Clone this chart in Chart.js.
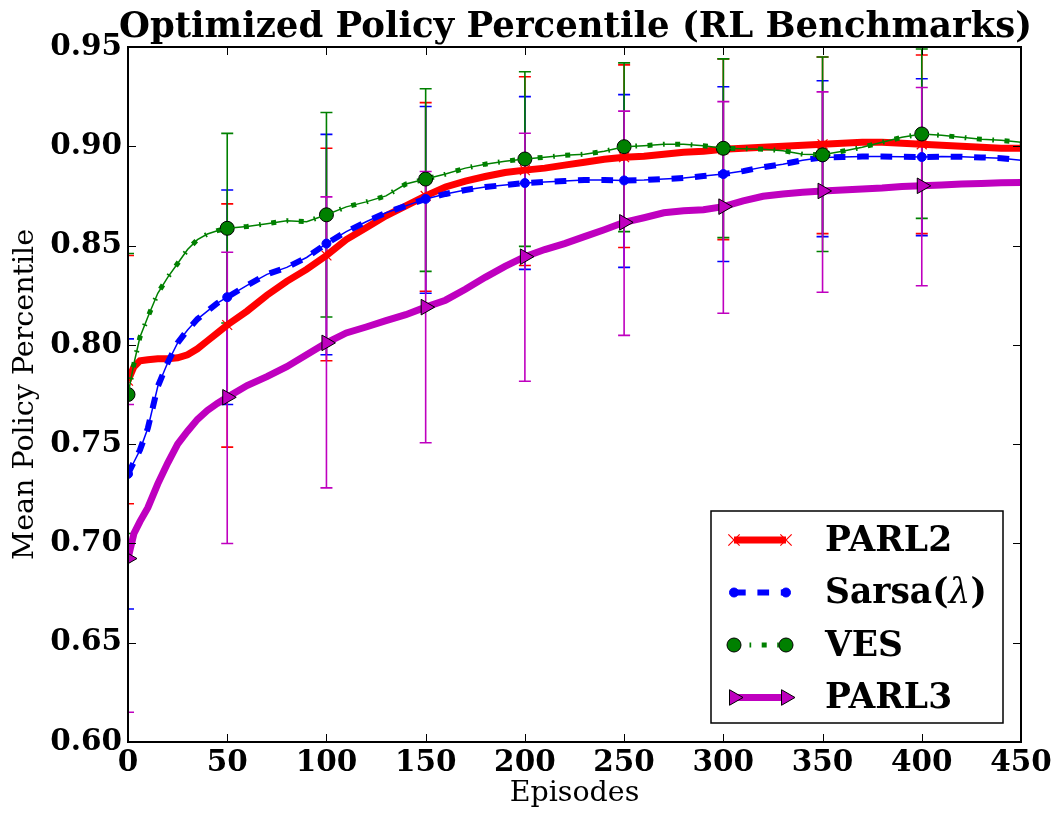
<!DOCTYPE html>
<html>
<head>
<meta charset="utf-8">
<title>Optimized Policy Percentile (RL Benchmarks)</title>
<script src="https://cdn.jsdelivr.net/npm/chart.js@4"></script>
<style>
  html, body { margin: 0; padding: 0; background: #fff; }
  #wrap { width: 1059px; height: 813px; }
</style>
</head>
<body>
<div id="wrap"><canvas id="chart"></canvas></div>
<script>
const FONT = "'DejaVu Serif', serif";

const episodes = [0, 3, 6, 10, 15, 20, 25, 30, 35, 40, 45,
  50, 60, 70, 80, 90, 100, 110, 120, 130, 140,
  150, 160, 170, 180, 190, 200, 210, 220, 230, 240,
  250, 260, 270, 280, 290, 300, 310, 320, 330, 340,
  350, 360, 370, 380, 390, 400, 410, 420, 430, 440, 450];

const parl2 = [0.782, 0.789, 0.792, 0.7925, 0.793, 0.793, 0.7935, 0.795, 0.798, 0.802, 0.806,
  0.810, 0.817, 0.825, 0.832, 0.838, 0.845, 0.853, 0.859, 0.865, 0.870,
  0.875, 0.8795, 0.8825, 0.8848, 0.8868, 0.888, 0.889, 0.8905, 0.892, 0.8935,
  0.8945, 0.895, 0.896, 0.897, 0.8975, 0.8985, 0.899, 0.8995, 0.900, 0.9005,
  0.901, 0.9015, 0.902, 0.902, 0.9015, 0.901, 0.9005, 0.900, 0.8995, 0.899, 0.899];

const sarsa = [0.735, 0.741, 0.747, 0.758, 0.779, 0.791, 0.801, 0.8075, 0.813, 0.817, 0.821,
  0.824, 0.830, 0.8355, 0.839, 0.844, 0.851, 0.857, 0.862, 0.8665, 0.870,
  0.8735, 0.876, 0.878, 0.8795, 0.8805, 0.8815, 0.882, 0.8825, 0.883, 0.883,
  0.8828, 0.883, 0.8835, 0.884, 0.885, 0.886, 0.8875, 0.8895, 0.891, 0.893,
  0.8944, 0.8946, 0.8948, 0.8948, 0.8947, 0.8946, 0.8948, 0.8947, 0.8944, 0.894, 0.893];

const ves = [0.775, 0.7906, 0.8038, 0.814, 0.826, 0.834, 0.841, 0.848, 0.853, 0.8558, 0.8575,
  0.8587, 0.8596, 0.861, 0.8625, 0.862, 0.8655, 0.8695, 0.872, 0.875, 0.881,
  0.8835, 0.886, 0.889, 0.891, 0.8925, 0.8936, 0.8945, 0.8955, 0.896, 0.8975,
  0.8998, 0.9003, 0.901, 0.901, 0.9003, 0.899, 0.8988, 0.8985, 0.8978, 0.896,
  0.8957, 0.8975, 0.8995, 0.902, 0.9045, 0.9062, 0.9055, 0.9045, 0.9035, 0.903, 0.902];

const parl3 = [0.6924, 0.705, 0.711, 0.718, 0.730, 0.7405, 0.750, 0.7565, 0.7625, 0.767, 0.7705,
  0.7736, 0.7795, 0.784, 0.789, 0.795, 0.801, 0.806, 0.809, 0.8122, 0.8152,
  0.819, 0.8225, 0.828, 0.834, 0.8395, 0.8444, 0.848, 0.851, 0.8545, 0.858,
  0.8617, 0.864, 0.8665, 0.8675, 0.868, 0.8696, 0.8725, 0.8748, 0.876, 0.8768,
  0.8775, 0.878, 0.8785, 0.879, 0.8798, 0.8801, 0.8805, 0.881, 0.8813, 0.8816, 0.8818];

// error bars (every 50 episodes)
const errEpisodes = [0, 50, 100, 150, 200, 250, 300, 350, 400];
const parl2High = [0.845, 0.871, 0.899, 0.922, 0.935, 0.941, 0.944, 0.945, 0.946];
const parl2Low  = [0.720, 0.7485, 0.792, 0.827, 0.840, 0.849, 0.853, 0.856, 0.856];
const sarsaHigh = [0.803, 0.878, 0.906, 0.920, 0.925, 0.926, 0.930, 0.933, 0.934];
const sarsaLow  = [0.667, 0.770, 0.795, 0.826, 0.838, 0.839, 0.842, 0.8545, 0.855];
const vesHigh   = [0.846, 0.9065, 0.917, 0.929, 0.9375, 0.942, 0.944, 0.945, 0.949];
const vesLow    = [0.705, 0.811, 0.814, 0.837, 0.8496, 0.857, 0.854, 0.847, 0.8637];
const parl3High = [0.770, 0.8466, 0.8745, 0.8873, 0.9066, 0.9177, 0.9225, 0.9274, 0.9296];
const parl3Low  = [0.615, 0.700, 0.728, 0.7507, 0.7817, 0.8048, 0.8159, 0.8265, 0.8298];

const xTicks = [0, 50, 100, 150, 200, 250, 300, 350, 400, 450];
const yTicks = [0.60, 0.65, 0.70, 0.75, 0.80, 0.85, 0.90, 0.95];

const RED = '#ff0000', BLUE = '#0000ff', GREEN = '#008000', MAG = '#bf00bf';

const pts = vals => episodes.map((x, i) => ({ x: x, y: vals[i] }));
const markAt = r => ctx => (ctx.raw && errEpisodes.includes(ctx.raw.x)) ? r : 0;

const errSeries = [
  { color: RED, high: parl2High, low: parl2Low },
  { color: BLUE, high: sarsaHigh, low: sarsaLow },
  { color: GREEN, high: vesHigh, low: vesLow },
  { color: MAG, high: parl3High, low: parl3Low }
];

const legendItems = [
  { label: ['PARL2'], color: RED, width: 7, dash: [], point: { pointStyle: 'crossRot', radius: 8, borderWidth: 1.2, rotation: 0 }, fill: RED, stroke: RED },
  { label: ['Sarsa(', 'λ', ')'], color: BLUE, width: 6, dash: [11.7, 11.7], point: { pointStyle: 'circle', radius: 4.5, borderWidth: 1, rotation: 0 }, fill: BLUE, stroke: BLUE },
  { label: ['VES'], color: GREEN, width: 5, dash: [5, 10.5, 1.7, 10.5], point: { pointStyle: 'circle', radius: 7, borderWidth: 1, rotation: 0 }, fill: GREEN, stroke: '#000' },
  { label: ['PARL3'], color: MAG, width: 7, dash: [], point: { pointStyle: 'triangle', radius: 9, borderWidth: 1, rotation: 90 }, fill: MAG, stroke: '#000' }
];

const errorBars = {
  id: 'errorBars',
  beforeDatasetsDraw(chart) {
    const { ctx, chartArea: a, scales: { x, y } } = chart;
    ctx.save();
    ctx.beginPath();
    ctx.rect(a.left, a.top, a.right - a.left, a.bottom - a.top);
    ctx.clip();
    ctx.lineWidth = 1.6;
    errSeries.forEach(s => {
      ctx.strokeStyle = s.color;
      errEpisodes.forEach((ep, i) => {
        const px = x.getPixelForValue(ep);
        const t = y.getPixelForValue(s.high[i]);
        const b = y.getPixelForValue(s.low[i]);
        ctx.beginPath();
        ctx.moveTo(px, t); ctx.lineTo(px, b);
        ctx.moveTo(px - 6, t); ctx.lineTo(px + 6, t);
        ctx.moveTo(px - 6, b); ctx.lineTo(px + 6, b);
        ctx.stroke();
      });
    });
    ctx.restore();
  }
};

const frame = {
  id: 'frame',
  afterDraw(chart) {
    const { ctx, chartArea: a, scales: { x, y } } = chart;
    ctx.save();
    // inner ticks on all four sides
    ctx.strokeStyle = '#000';
    ctx.lineWidth = 1;
    ctx.beginPath();
    xTicks.forEach(v => {
      const px = Math.round(x.getPixelForValue(v)) + 0.5;
      ctx.moveTo(px, a.bottom); ctx.lineTo(px, a.bottom - 8);
      ctx.moveTo(px, a.top); ctx.lineTo(px, a.top + 8);
    });
    yTicks.forEach(v => {
      const py = Math.round(y.getPixelForValue(v)) + 0.5;
      ctx.moveTo(a.left, py); ctx.lineTo(a.left + 8, py);
      ctx.moveTo(a.right, py); ctx.lineTo(a.right - 8, py);
    });
    ctx.stroke();
    ctx.lineWidth = 2;
    ctx.strokeRect(a.left, a.top, a.right - a.left, a.bottom - a.top);

    // title
    ctx.fillStyle = '#000';
    ctx.font = 'bold 35.5px ' + FONT;
    ctx.textAlign = 'center';
    ctx.textBaseline = 'alphabetic';
    ctx.fillText('Optimized Policy Percentile (RL Benchmarks)', (a.left + a.right) / 2 + 1, 37);

    // legend
    const bw = 292, bh = 212;
    const bx = a.right - 18 - bw, by = a.bottom - 19 - bh;
    ctx.fillStyle = '#fff';
    ctx.fillRect(bx, by, bw, bh);
    ctx.lineWidth = 1.5;
    ctx.strokeStyle = '#000';
    ctx.strokeRect(bx, by, bw, bh);
    legendItems.forEach((it, i) => {
      const ry = by + 29 + i * 52.5;
      const x0 = bx + 23, x1 = bx + 75;
      ctx.save();
      ctx.strokeStyle = it.color;
      ctx.lineWidth = it.width;
      ctx.setLineDash(it.dash);
      ctx.beginPath();
      ctx.moveTo(x0, ry); ctx.lineTo(x1, ry);
      ctx.stroke();
      ctx.restore();
      [x0, x1].forEach(px => {
        ctx.fillStyle = it.fill;
        ctx.strokeStyle = it.stroke;
        ctx.lineWidth = it.point.borderWidth;
        Chart.helpers.drawPoint(ctx, it.point, px, ry);
      });
      let tx = bx + 114;
      ctx.fillStyle = '#000';
      ctx.textAlign = 'left';
      ctx.textBaseline = 'middle';
      it.label.forEach((part, k) => {
        ctx.font = (k === 1 ? 'italic 34.5px ' : 'bold 34.5px ') + FONT;
        ctx.fillText(part, tx, ry + 2);
        tx += ctx.measureText(part).width;
      });
    });
    ctx.restore();
  }
};

new Chart(document.getElementById('chart'), {
  type: 'line',
  data: {
    datasets: [
      { label: 'PARL2', data: pts(parl2), borderColor: RED, borderWidth: 7, order: 3, clip: 0,
        pointStyle: 'crossRot', pointRadius: markAt(7), pointBorderColor: RED, pointBorderWidth: 1.2,
        pointBackgroundColor: RED },
      { label: 'Sarsa thin', data: pts(sarsa), borderColor: BLUE, borderWidth: 1.5, order: 2, clip: 0, pointRadius: 0 },
      { label: 'Sarsa(λ)', data: pts(sarsa), borderColor: BLUE, borderWidth: 6, borderDash: [11.7, 11.7], order: 2, clip: 0,
        pointStyle: 'circle', pointRadius: markAt(4.5), pointBackgroundColor: BLUE, pointBorderColor: BLUE, pointBorderWidth: 1 },
      { label: 'VES thin', data: pts(ves), borderColor: GREEN, borderWidth: 1.5, order: 1, clip: 0, pointRadius: 0 },
      { label: 'VES', data: pts(ves), borderColor: GREEN, borderWidth: 5, borderDash: [5, 10.5, 1.7, 10.5], order: 1, clip: 0,
        pointStyle: 'circle', pointRadius: markAt(7), pointBackgroundColor: GREEN, pointBorderColor: '#000', pointBorderWidth: 1 },
      { label: 'PARL3', data: pts(parl3), borderColor: MAG, borderWidth: 7, order: 0, clip: 0,
        pointStyle: 'triangle', pointRotation: 90, pointRadius: markAt(9), pointBackgroundColor: MAG,
        pointBorderColor: '#000', pointBorderWidth: 1 }
    ]
  },
  options: {
    responsive: true,
    maintainAspectRatio: false,
    animation: false,
    devicePixelRatio: 1,
    layout: { padding: { top: 47, right: 38, left: 0, bottom: 0 } },
    plugins: { legend: { display: false }, title: { display: false }, tooltip: { enabled: false } },
    elements: { line: { tension: 0, fill: false } },
    scales: {
      x: {
        type: 'linear', min: 0, max: 450,
        grid: { display: false, drawTicks: false },
        border: { display: false },
        afterBuildTicks: s => { s.ticks = xTicks.map(v => ({ value: v })); },
        ticks: { color: '#000', padding: 4, maxRotation: 0, font: { family: FONT, size: 29.5, weight: 'bold' } },
        title: { display: true, text: 'Episodes', color: '#000', padding: { top: 0, bottom: 2 }, font: { family: FONT, size: 28.5 } },
        afterFit: s => { s.height = 71; s.paddingLeft = 0; s.paddingRight = 0; }
      },
      y: {
        type: 'linear', min: 0.6, max: 0.95,
        grid: { display: false, drawTicks: false },
        border: { display: false },
        afterBuildTicks: s => { s.ticks = yTicks.map(v => ({ value: v })); },
        ticks: { color: '#000', padding: 6, callback: v => v.toFixed(2), font: { family: FONT, size: 29.5, weight: 'bold' } },
        title: { display: true, text: 'Mean Policy Percentile', color: '#000', padding: { top: 8, bottom: 0 }, font: { family: FONT, size: 28.5 } },
        afterFit: s => { s.width = 128; s.paddingTop = 0; s.paddingBottom = 0; }
      }
    }
  },
  plugins: [errorBars, frame]
});
</script>
</body>
</html>
